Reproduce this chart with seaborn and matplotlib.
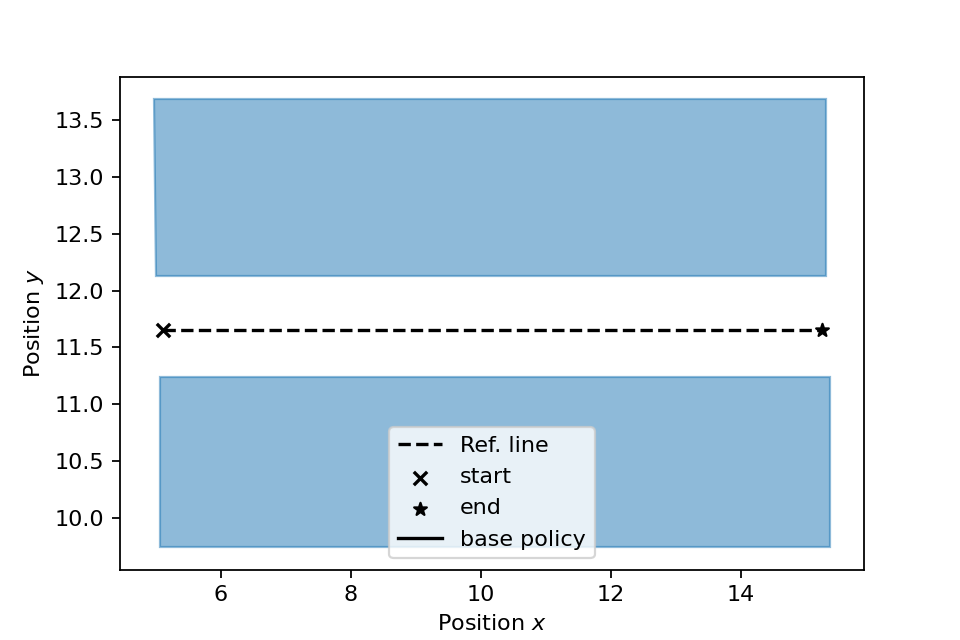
"""
Reference line between start/end with obstacle regions.
"""
import matplotlib
matplotlib.use("Agg")
import matplotlib.pyplot as plt
import seaborn as sns

# obstacle polygons (x, y vertices)
upper_x = [4.97, 15.32, 15.32, 5.00]
upper_y = [13.685, 13.685, 12.125, 12.125]
lower_x = [5.065, 15.38, 15.38, 5.065]
lower_y = [11.24, 11.24, 9.74, 9.74]

# reference line
ref_x = [5.11, 15.26]
ref_y = [11.655, 11.655]
start = (5.11, 11.655)
end = (15.26, 11.655)

fig, ax = plt.subplots(figsize=(6, 4), dpi=160)

ax.fill(upper_x, upper_y, facecolor="C0", edgecolor="C0", alpha=0.5, lw=1)
ax.fill(lower_x, lower_y, facecolor="C0", edgecolor="C0", alpha=0.5, lw=1)

sns.lineplot(x=ref_x, y=ref_y, color="k", linestyle="--", label="Ref. line", ax=ax)
ax.scatter([start[0]], [start[1]], marker="x", color="k", label="start", zorder=3)
ax.scatter([end[0]], [end[1]], marker="*", color="k", label="end", zorder=3)
ax.plot([], [], color="k", label="base policy")

ax.set_xlabel("Position $x$")
ax.set_ylabel("Position $y$")
ax.legend(loc="lower center")

fig.savefig("out.png", dpi=160)
plt.close(fig)
